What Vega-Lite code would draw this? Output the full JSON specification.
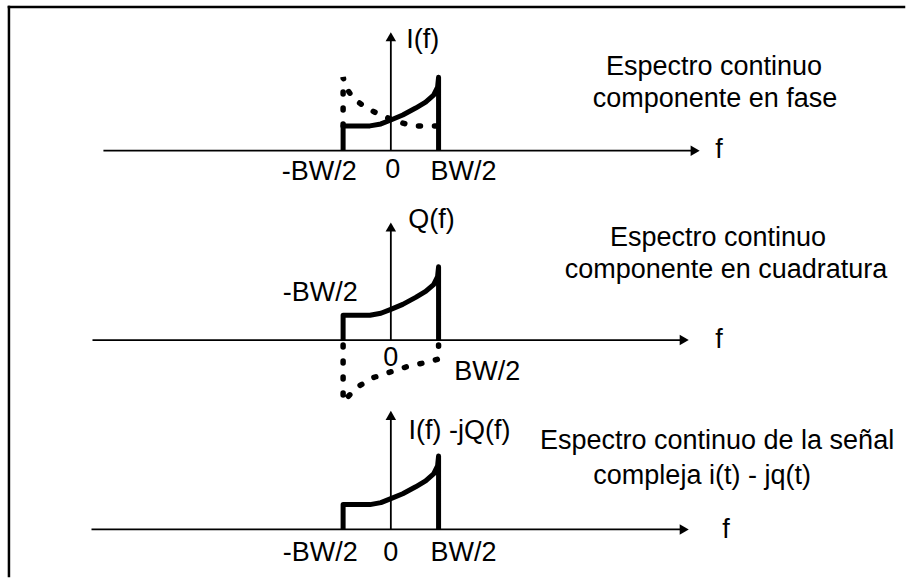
{
  "$schema": "https://vega.github.io/schema/vega-lite/v6.json",
  "width": 909,
  "height": 581,
  "autosize": {"type": "fit", "contains": "padding"},
  "padding": 0,
  "background": "white",
  "config": {"view": {"stroke": null}},
  "datasets": {
    "frame": [
      {"g": "top", "i": 0, "x": 9, "y": 7}, {"g": "top", "i": 1, "x": 909, "y": 7},
      {"g": "left", "i": 0, "x": 9, "y": 7}, {"g": "left", "i": 1, "x": 9, "y": 581}
    ],
    "axes": [
      {"g": "h1", "i": 0, "x": 104, "y": 152}, {"g": "h1", "i": 1, "x": 699, "y": 152},
      {"g": "v1", "i": 0, "x": 393, "y": 152}, {"g": "v1", "i": 1, "x": 393, "y": 37},
      {"g": "h2", "i": 0, "x": 93, "y": 343}, {"g": "h2", "i": 1, "x": 688, "y": 343},
      {"g": "v2", "i": 0, "x": 393, "y": 343}, {"g": "v2", "i": 1, "x": 393, "y": 229},
      {"g": "h3", "i": 0, "x": 92, "y": 534}, {"g": "h3", "i": 1, "x": 688, "y": 534},
      {"g": "v3", "i": 0, "x": 393, "y": 534}, {"g": "v3", "i": 1, "x": 393, "y": 419}
    ],
    "arrows": [
      {"d": "right", "x": 699, "y": 152}, {"d": "right", "x": 688, "y": 343}, {"d": "right", "x": 688, "y": 534},
      {"d": "up", "x": 393, "y": 37}, {"d": "up", "x": 393, "y": 229}, {"d": "up", "x": 393, "y": 419}
    ],
    "solid": [
      {"g": "p1", "i": 0, "x": 345, "y": 152}, {"g": "p1", "i": 1, "x": 345, "y": 127}, {"g": "p1", "i": 2, "x": 372, "y": 127},
      {"g": "p1", "i": 3, "x": 383, "y": 125}, {"g": "p1", "i": 4, "x": 393, "y": 121}, {"g": "p1", "i": 5, "x": 405, "y": 116},
      {"g": "p1", "i": 6, "x": 418, "y": 109}, {"g": "p1", "i": 7, "x": 428, "y": 103}, {"g": "p1", "i": 8, "x": 436, "y": 96},
      {"g": "p1", "i": 9, "x": 440, "y": 88}, {"g": "p1", "i": 10, "x": 441, "y": 78}, {"g": "p1", "i": 11, "x": 441, "y": 152},
      {"g": "p2", "i": 0, "x": 345, "y": 343}, {"g": "p2", "i": 1, "x": 345, "y": 318}, {"g": "p2", "i": 2, "x": 372, "y": 318},
      {"g": "p2", "i": 3, "x": 383, "y": 316}, {"g": "p2", "i": 4, "x": 393, "y": 312}, {"g": "p2", "i": 5, "x": 405, "y": 307},
      {"g": "p2", "i": 6, "x": 418, "y": 300}, {"g": "p2", "i": 7, "x": 428, "y": 294}, {"g": "p2", "i": 8, "x": 436, "y": 287},
      {"g": "p2", "i": 9, "x": 440, "y": 279}, {"g": "p2", "i": 10, "x": 441, "y": 269}, {"g": "p2", "i": 11, "x": 441, "y": 343},
      {"g": "p3", "i": 0, "x": 345, "y": 534}, {"g": "p3", "i": 1, "x": 345, "y": 509}, {"g": "p3", "i": 2, "x": 372, "y": 509},
      {"g": "p3", "i": 3, "x": 383, "y": 507}, {"g": "p3", "i": 4, "x": 393, "y": 503}, {"g": "p3", "i": 5, "x": 405, "y": 498},
      {"g": "p3", "i": 6, "x": 418, "y": 491}, {"g": "p3", "i": 7, "x": 428, "y": 485}, {"g": "p3", "i": 8, "x": 436, "y": 478},
      {"g": "p3", "i": 9, "x": 440, "y": 470}, {"g": "p3", "i": 10, "x": 441, "y": 460}, {"g": "p3", "i": 11, "x": 441, "y": 534}
    ],
    "dotted": [
      {"g": "d1", "i": 0, "x": 345, "y": 127}, {"g": "d1", "i": 1, "x": 345, "y": 78}, {"g": "d1", "i": 2, "x": 349, "y": 90},
      {"g": "d1", "i": 3, "x": 356, "y": 100}, {"g": "d1", "i": 4, "x": 366, "y": 107}, {"g": "d1", "i": 5, "x": 382, "y": 116},
      {"g": "d1", "i": 6, "x": 398, "y": 122}, {"g": "d1", "i": 7, "x": 414, "y": 127}, {"g": "d1", "i": 8, "x": 441, "y": 127},
      {"g": "d2", "i": 0, "x": 345, "y": 348}, {"g": "d2", "i": 1, "x": 345, "y": 405}, {"g": "d2", "i": 2, "x": 352, "y": 398},
      {"g": "d2", "i": 3, "x": 360, "y": 390}, {"g": "d2", "i": 4, "x": 375, "y": 381}, {"g": "d2", "i": 5, "x": 393, "y": 375},
      {"g": "d2", "i": 6, "x": 412, "y": 369}, {"g": "d2", "i": 7, "x": 432, "y": 365}, {"g": "d2", "i": 8, "x": 441, "y": 362},
      {"g": "d2", "i": 9, "x": 441, "y": 348}
    ],
    "labels": [
      {"t": "I(f)", "x": 425, "y": 40},
      {"t": "Espectro continuo", "x": 718, "y": 68},
      {"t": "componente en fase", "x": 719, "y": 100},
      {"t": "f", "x": 723, "y": 151},
      {"t": "-BW/2", "x": 321, "y": 173},
      {"t": "0", "x": 395, "y": 171},
      {"t": "BW/2", "x": 466, "y": 173},
      {"t": "Q(f)", "x": 434, "y": 222},
      {"t": "Espectro continuo", "x": 722, "y": 240},
      {"t": "componente en cuadratura", "x": 730, "y": 272},
      {"t": "-BW/2", "x": 322, "y": 296},
      {"t": "0", "x": 393, "y": 361},
      {"t": "BW/2", "x": 490, "y": 375},
      {"t": "f", "x": 723, "y": 343},
      {"t": "I(f) -jQ(f)", "x": 462, "y": 435},
      {"t": "Espectro continuo de la señal", "x": 721, "y": 445},
      {"t": "compleja i(t) - jq(t)", "x": 706, "y": 480},
      {"t": "-BW/2", "x": 322, "y": 558},
      {"t": "0", "x": 393, "y": 558},
      {"t": "BW/2", "x": 466, "y": 558},
      {"t": "f", "x": 730, "y": 535}
    ]
  },
  "encoding": {
    "x": {"field": "x", "type": "quantitative", "scale": {"domain": [0, 909], "nice": false, "zero": false}, "axis": null},
    "y": {"field": "y", "type": "quantitative", "scale": {"domain": [0, 581], "nice": false, "zero": false, "reverse": true}, "axis": null}
  },
  "layer": [
    {
      "data": {"name": "frame"},
      "mark": {"type": "line", "color": "black", "strokeWidth": 2.5, "strokeCap": "square"},
      "encoding": {"detail": {"field": "g"}, "order": {"field": "i", "type": "quantitative"}}
    },
    {
      "data": {"name": "axes"},
      "mark": {"type": "line", "color": "black", "strokeWidth": 1.8},
      "encoding": {"detail": {"field": "g"}, "order": {"field": "i", "type": "quantitative"}}
    },
    {
      "data": {"name": "arrows"},
      "transform": [{"filter": "datum.d === 'right'"}],
      "mark": {"type": "point", "shape": "triangle-right", "size": 110, "filled": true, "color": "black", "opacity": 1}
    },
    {
      "data": {"name": "arrows"},
      "transform": [{"filter": "datum.d === 'up'"}],
      "mark": {"type": "point", "shape": "triangle-up", "size": 110, "filled": true, "color": "black", "opacity": 1}
    },
    {
      "data": {"name": "solid"},
      "mark": {"type": "line", "color": "black", "strokeWidth": 5, "strokeJoin": "round", "strokeCap": "butt"},
      "encoding": {"detail": {"field": "g"}, "order": {"field": "i", "type": "quantitative"}}
    },
    {
      "data": {"name": "dotted"},
      "mark": {"type": "line", "color": "black", "strokeWidth": 5.5, "strokeCap": "round", "strokeDash": [2, 14]},
      "encoding": {"detail": {"field": "g"}, "order": {"field": "i", "type": "quantitative"}}
    },
    {
      "data": {"name": "labels"},
      "mark": {"type": "text", "font": "Liberation Sans", "fontSize": 27, "color": "black", "align": "center", "baseline": "middle"},
      "encoding": {"text": {"field": "t"}}
    }
  ]
}
